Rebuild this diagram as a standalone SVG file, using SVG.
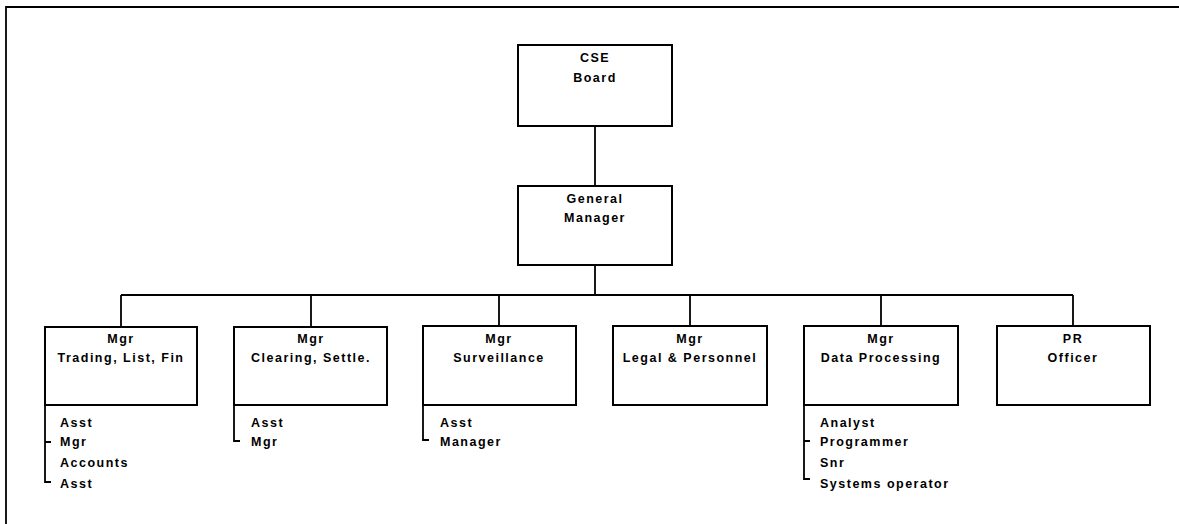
<svg xmlns="http://www.w3.org/2000/svg" width="1179" height="524" viewBox="0 0 1179 524">
<style>
.box{fill:#fff;stroke:#000;stroke-width:2}
.ln{fill:none;stroke:#000;stroke-width:1.8}
.t{font-family:"Liberation Sans",Arial,sans-serif;font-weight:bold;font-size:12.5px;letter-spacing:1.5px;fill:#000}
.c{text-anchor:middle}
</style>
<rect width="1179" height="524" fill="#fff"/>
<g id="frame">
<path class="ln" d="M6,524 V7 H1179" stroke-width="2.2"/>
</g>
<g id="connectors">
<path class="ln" d="M595,126 V186"/>
<path class="ln" d="M595,265 V295"/>
<path class="ln" d="M121,295 H1073"/>
<path class="ln" d="M121,295 V327 M311,295 V327 M499,295 V326 M690,295 V326 M881,295 V326 M1073,295 V326"/>
<path class="ln" d="M45,405 V482 H51 M45,442 H51"/>
<path class="ln" d="M234,405 V441 H240"/>
<path class="ln" d="M423,405 V440 H429"/>
<path class="ln" d="M804,405 V479 H810 M804,441 H810"/>
</g>
<g id="board">
<rect class="box" x="518" y="45" width="154" height="81"/>
<text class="t c" x="595" y="62">CSE</text>
<text class="t c" x="595" y="82">Board</text>
</g>
<g id="gm">
<rect class="box" x="518" y="186" width="154" height="79"/>
<text class="t c" x="595" y="203">General</text>
<text class="t c" x="595" y="222">Manager</text>
</g>
<g id="trading">
<rect class="box" x="45" y="327" width="152" height="78"/>
<text class="t c" x="121" y="343">Mgr</text>
<text class="t c" x="121" y="362">Trading, List, Fin</text>
<text class="t" x="60" y="427">Asst</text>
<text class="t" x="60" y="446">Mgr</text>
<text class="t" x="60" y="467">Accounts</text>
<text class="t" x="60" y="488">Asst</text>
</g>
<g id="clearing">
<rect class="box" x="234" y="327" width="153" height="78"/>
<text class="t c" x="311" y="343">Mgr</text>
<text class="t c" x="311" y="362">Clearing, Settle.</text>
<text class="t" x="251" y="427">Asst</text>
<text class="t" x="251" y="446">Mgr</text>
</g>
<g id="surveillance">
<rect class="box" x="423" y="326" width="153" height="79"/>
<text class="t c" x="499" y="343">Mgr</text>
<text class="t c" x="499" y="362">Surveillance</text>
<text class="t" x="440" y="427">Asst</text>
<text class="t" x="440" y="446">Manager</text>
</g>
<g id="legal">
<rect class="box" x="613" y="326" width="154" height="79"/>
<text class="t c" x="690" y="343">Mgr</text>
<text class="t c" x="690" y="362">Legal &amp; Personnel</text>
</g>
<g id="data">
<rect class="box" x="804" y="326" width="154" height="79"/>
<text class="t c" x="881" y="343">Mgr</text>
<text class="t c" x="881" y="362">Data Processing</text>
<text class="t" x="820" y="427">Analyst</text>
<text class="t" x="820" y="446">Programmer</text>
<text class="t" x="820" y="467">Snr</text>
<text class="t" x="820" y="488">Systems operator</text>
</g>
<g id="pr">
<rect class="box" x="997" y="326" width="153" height="79"/>
<text class="t c" x="1073" y="343">PR</text>
<text class="t c" x="1073" y="362">Officer</text>
</g>
</svg>
